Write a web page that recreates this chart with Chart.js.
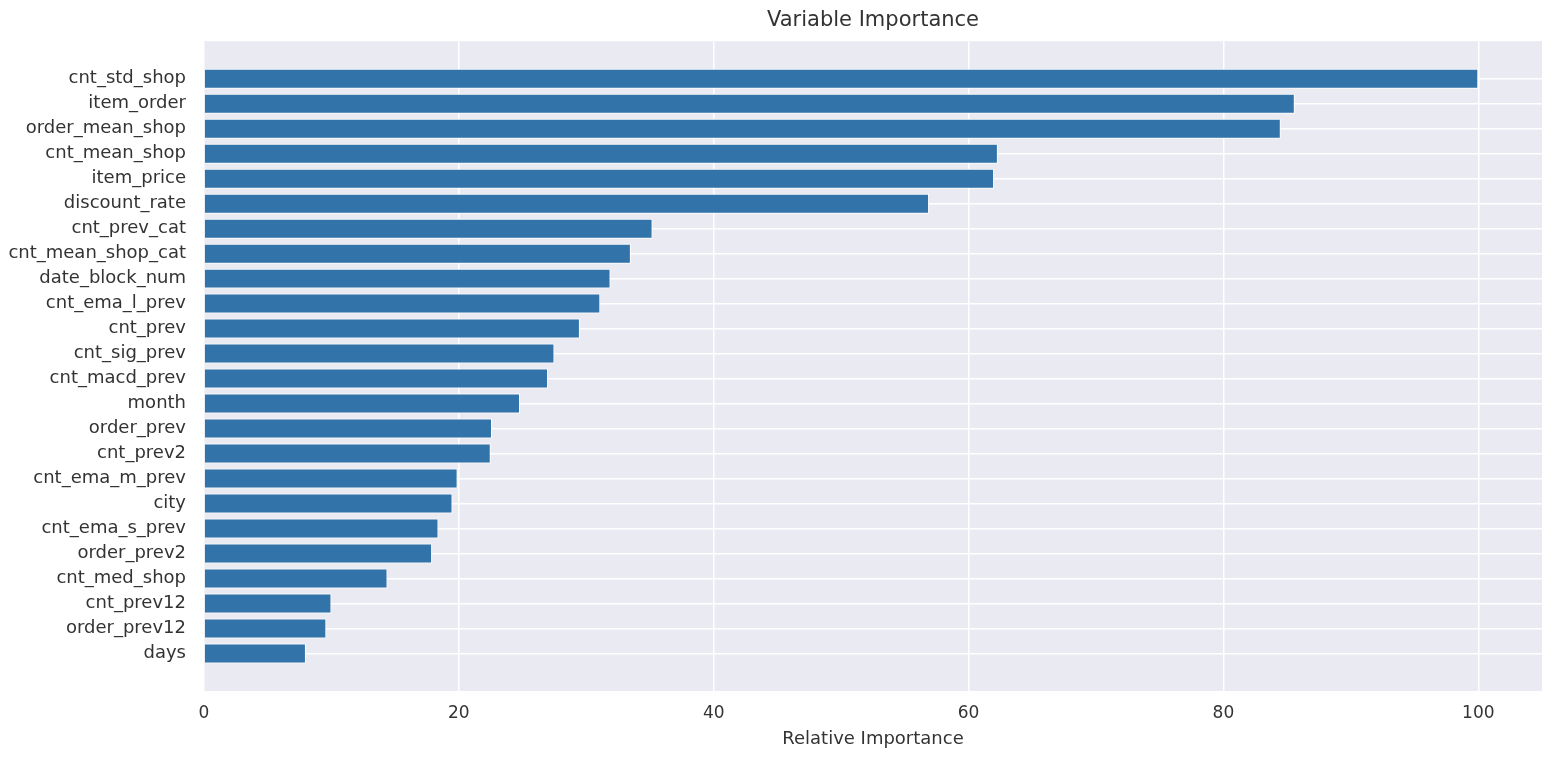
<!DOCTYPE html>
<html>
<head>
<meta charset="utf-8">
<script src="https://cdn.jsdelivr.net/npm/chart.js@4"></script>
<style>
  body { margin: 0; background: #fff; }
  canvas { display: block; }
</style>
</head>
<body>
<canvas id="chart" width="1560" height="764"></canvas>
<script>
// feature names, top to bottom
const features = [
  "cnt_std_shop", "item_order", "order_mean_shop", "cnt_mean_shop", "item_price",
  "discount_rate", "cnt_prev_cat", "cnt_mean_shop_cat", "date_block_num", "cnt_ema_l_prev",
  "cnt_prev", "cnt_sig_prev", "cnt_macd_prev", "month", "order_prev",
  "cnt_prev2", "cnt_ema_m_prev", "city", "cnt_ema_s_prev", "order_prev2",
  "cnt_med_shop", "cnt_prev12", "order_prev12", "days"
];
const importance = [
  100, 85.6, 84.5, 62.3, 62.0,
  56.9, 35.2, 33.5, 31.9, 31.1,
  29.5, 27.5, 27.0, 24.8, 22.6,
  22.5, 19.9, 19.5, 18.4, 17.9,
  14.4, 10.0, 9.6, 8.0
];
const xTicks = [0, 20, 40, 60, 80, 100];

const textColor = "#333333";
const font = "'DejaVu Sans', sans-serif";

const plotBg = {
  id: "plotBg",
  beforeDraw(chart) {
    const { ctx, chartArea: a } = chart;
    ctx.save();
    ctx.fillStyle = "#eaeaf2";
    ctx.fillRect(a.left, a.top, a.right - a.left, a.bottom - a.top);
    ctx.restore();
  }
};

new Chart(document.getElementById("chart").getContext("2d"), {
  type: "bar",
  data: {
    datasets: [
      {
        data: importance.map((v, i) => ({ x: v, y: i })),
        backgroundColor: "#3274a9",
        borderColor: "#ffffff",
        borderWidth: 1,
        barPercentage: 0.8,
        categoryPercentage: 1
      }
    ]
  },
  options: {
    indexAxis: "y",
    responsive: false,
    animation: false,
    layout: { padding: { left: 0, right: 18, top: 0, bottom: 0 } },
    plugins: {
      legend: { display: false },
      tooltip: { enabled: false },
      title: {
        display: true,
        text: "Variable Importance",
        fullSize: false,
        color: textColor,
        font: { family: font, size: 21, weight: "normal" },
        padding: { top: 8, bottom: 8 }
      }
    },
    scales: {
      x: {
        type: "linear",
        min: 0,
        max: 105,
        afterFit: (axis) => { axis.height = 73; },
        afterBuildTicks: (axis) => { axis.ticks = xTicks.map((v) => ({ value: v })); },
        ticks: {
          color: textColor,
          padding: 12,
          font: { family: font, size: 17 }
        },
        grid: { color: "#ffffff", lineWidth: 1.5, drawTicks: false },
        border: { display: false },
        title: {
          display: true,
          text: "Relative Importance",
          color: textColor,
          font: { family: font, size: 18 },
          padding: { top: 4, bottom: 14 }
        }
      },
      y: {
        type: "linear",
        min: -1.5,
        max: 24.5,
        reverse: true,
        offset: false,
        afterFit: (axis) => { axis.width = 204; },
        afterBuildTicks: (axis) => { axis.ticks = features.map((f, i) => ({ value: i })); },
        ticks: {
          color: textColor,
          padding: 18,
          autoSkip: false,
          font: { family: font, size: 18 },
          callback: (v) => features[v]
        },
        grid: { color: "#ffffff", lineWidth: 1.5, drawTicks: false, offset: false },
        border: { display: false }
      }
    }
  },
  plugins: [plotBg]
});
</script>
</body>
</html>
